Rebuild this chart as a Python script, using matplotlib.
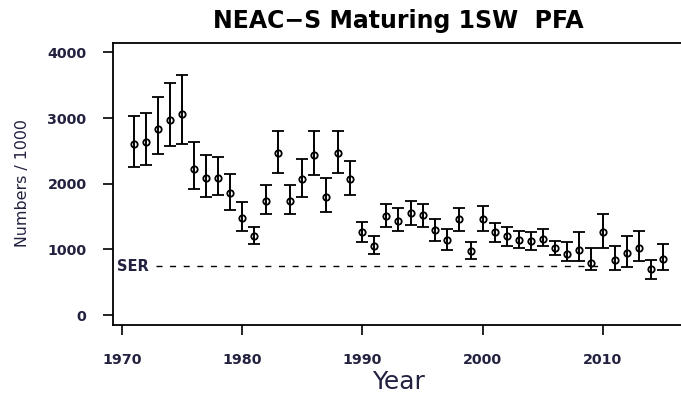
import numpy as np
import matplotlib
matplotlib.use("Agg")
import matplotlib.pyplot as plt

# ---------------- DATA ----------------
years = np.arange(1971, 2016)
pfa_mean = [2609, 2633, 2835, 2976, 3062, 2231, 2090, 2090, 1863, 1485,
            1198, 1742, 2467, 1742, 2065, 2432, 1802, 2467, 2065, 1258,
            1057, 1515, 1435, 1561, 1526, 1289, 1148, 1461, 971, 1461,
            1258, 1208, 1148, 1122, 1163, 1022, 937, 997, 796, 1258,
            836, 947, 1022, 695, 856]
pfa_low = [2255, 2291, 2457, 2568, 2603, 1913, 1802, 1828, 1601, 1284,
           1083, 1541, 2171, 1541, 1802, 2140, 1566, 2171, 1828, 1113,
           932, 1340, 1284, 1375, 1340, 1133, 997, 1284, 856, 1284,
           1113, 1057, 1022, 997, 1047, 911, 820, 820, 680, 1022,
           680, 730, 820, 544, 680]
pfa_high = [3036, 3071, 3328, 3530, 3651, 2643, 2432, 2407, 2145, 1717,
            1340, 1974, 2810, 1974, 2382, 2810, 2095, 2810, 2346, 1425,
            1198, 1687, 1627, 1742, 1687, 1461, 1309, 1627, 1113, 1662,
            1400, 1340, 1284, 1258, 1314, 1133, 1113, 1258, 1022, 1541,
            1047, 1198, 1284, 846, 1083]
ser_value = 745
ser_years = [1972.8, 2009.8]

xticks = [1970, 1980, 1990, 2000, 2010]
yticks = [0, 1000, 2000, 3000, 4000]

txt_col = "#222240"

# ---------------- PLOT ----------------
W, H = 681, 394
fig = plt.figure(figsize=(W / 100, H / 100), dpi=100)
left, right, top, bottom = 113, 684, 42.5, 325
ax = fig.add_axes([left / W, 1 - bottom / H, (right - left) / W, (bottom - top) / H])

mean = np.array(pfa_mean)
yerr = [mean - np.array(pfa_low), np.array(pfa_high) - mean]
ax.errorbar(years, mean, yerr=yerr, fmt="o", color="black", ecolor="black",
            elinewidth=1.4, capsize=4.3, capthick=1.4,
            markerfacecolor="none", markeredgecolor="black",
            markersize=4.6, markeredgewidth=1.3)

ax.plot(ser_years, [ser_value, ser_value], color="black", lw=1.0,
        dashes=(4.3, 5.5))
ax.text(1969.6, ser_value, "SER", ha="left", va="center",
        fontsize=10.5, fontweight="bold", color=txt_col)

ax.set_xlim(1969.24, 2016.76)
ax.set_ylim(-150, 4150)
ax.set_xticks(xticks)
ax.set_yticks(yticks)

for s in ax.spines.values():
    s.set_linewidth(1.3)

ax.tick_params(axis="both", direction="out", length=7.5, width=1.2,
               labelsize=10.3, labelcolor=txt_col)
ax.tick_params(axis="x", pad=12.5)
ax.tick_params(axis="y", pad=11.5)
for lab in ax.get_xticklabels() + ax.get_yticklabels():
    lab.set_fontweight("bold")

ax.set_ylabel("Numbers / 1000", fontsize=11.4, color=txt_col, va="center")
ax.yaxis.set_label_coords((22 - left) / (right - left), 0.5 - ((183 - (top + bottom) / 2) / (bottom - top)))

ax.set_xlabel("Year", fontsize=18, color=txt_col, va="baseline")
ax.xaxis.set_label_coords(0.5, (bottom - 389) / (bottom - top))

ax.set_title("NEAC\u2212S Maturing 1SW  PFA", fontsize=17, fontweight="bold",
             color="black", y=(bottom - 28) / (bottom - top), pad=0, va="baseline")

fig.savefig("out.png", dpi=100)
